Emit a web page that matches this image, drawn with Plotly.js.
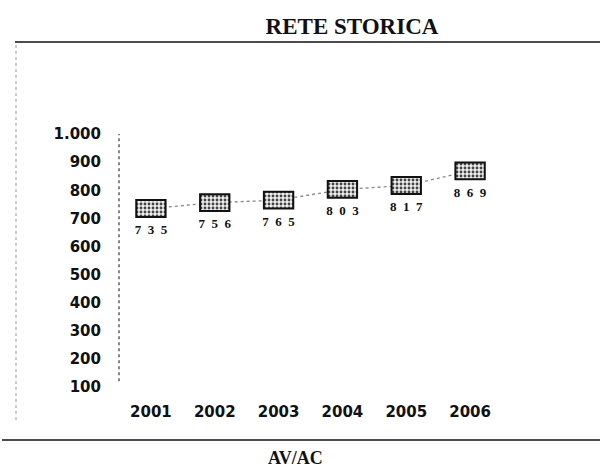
<!DOCTYPE html>
<html>
<head>
<meta charset="utf-8">
<script src="https://cdn.plot.ly/plotly-3.0.1.min.js"></script>
<style>html,body{margin:0;padding:0;background:#fff;}#chart{width:600px;height:470px;}</style>
</head>
<body>
<div id="chart"></div>
<script>
const years = ['2001', '2002', '2003', '2004', '2005', '2006'];
const values = [735, 756, 765, 803, 817, 869];
const yTicks = [100, 200, 300, 400, 500, 600, 700, 800, 900, 1000];
const chartTitle = 'RETE STORICA';
const footerTitle = 'AV/AC';

const boxHalf = 30; // half-height of the box marks in data units
const spaced = values.map(v => String(v).split('').join('\u2002'));

const lineTrace = {
  type: 'scatter', mode: 'lines', x: years, y: values,
  xaxis: 'x', yaxis: 'y',
  line: {color: '#888', width: 1.3, dash: 'dot'},
  hoverinfo: 'skip', showlegend: false
};
const boxTrace = {
  type: 'bar', x: years, y: values.map(() => 2 * boxHalf),
  base: values.map(v => v - boxHalf),
  xaxis: 'x2', yaxis: 'y2', width: 0.46,
  marker: {
    color: '#e6e6e6',
    line: {color: '#111', width: 2},
    pattern: {shape: '.', fgcolor: '#444', bgcolor: '#eeeeee', size: 4, solidity: 0.4}
  },
  showlegend: false, hoverinfo: 'skip'
};
const labelTrace = {
  type: 'scatter', mode: 'markers+text', x: years, y: values,
  xaxis: 'x2', yaxis: 'y2',
  marker: {size: 24, opacity: 0},
  text: spaced, textposition: 'bottom center',
  textfont: {family: 'Liberation Serif', size: 13, color: '#111', weight: 'bold'},
  showlegend: false, hoverinfo: 'skip'
};

const yr = [50, 1100];
const xr = [-0.5, 5.5];
const layout = {
  width: 600, height: 470,
  margin: {l: 119, r: 98, t: 106, b: 69},
  paper_bgcolor: '#fff', plot_bgcolor: '#fff',
  separators: ',.',
  showlegend: false,
  title: {
    text: '<b>' + chartTitle + '</b>', xref: 'paper', x: (352 - 119) / 383, xanchor: 'center',
    yref: 'container', y: 1 - 26 / 470, yanchor: 'middle',
    font: {family: 'Liberation Serif', size: 23, color: '#111'}
  },
  xaxis: {
    type: 'category', range: xr, showline: false, showgrid: false, zeroline: false,
    ticks: '', tickfont: {family: 'DejaVu Sans', size: 15, color: '#111', weight: 'bold'}
  },
  yaxis: {
    range: yr, tickvals: yTicks, tickformat: ',d', showline: false, showgrid: false, zeroline: false,
    ticks: '', ticklabelstandoff: 17,
    tickfont: {family: 'DejaVu Sans', size: 15, color: '#111', weight: 'bold'}
  },
  xaxis2: {type: 'category', range: xr, overlaying: 'x', visible: false},
  yaxis2: {range: yr, overlaying: 'y', visible: false},
  shapes: [
    {type: 'line', xref: 'paper', yref: 'paper', x0: (15 - 119) / 383, x1: (600 - 119) / 383,
     y0: (401 - 42) / 295, y1: (401 - 42) / 295, line: {color: '#111', width: 1.5}},
    {type: 'line', xref: 'paper', yref: 'paper', x0: (2 - 119) / 383, x1: (600 - 119) / 383,
     y0: (401 - 440) / 295, y1: (401 - 440) / 295, line: {color: '#111', width: 1.5}},
    {type: 'line', xref: 'paper', yref: 'paper', x0: (16 - 119) / 383, x1: (16 - 119) / 383,
     y0: (401 - 420) / 295, y1: (401 - 44) / 295, line: {color: '#999', width: 1, dash: 'dot'}},
    {type: 'line', xref: 'paper', yref: 'y', x0: 0, x1: 0, y0: 120, y1: 1000,
     line: {color: '#444', width: 1.3, dash: 'dot'}}
  ],
  annotations: [
    {text: '<b>' + footerTitle + '</b>', xref: 'paper', yref: 'paper',
     x: (295 - 119) / 383, y: (401 - 458) / 295, xanchor: 'center', yanchor: 'middle',
     showarrow: false, font: {family: 'Liberation Serif', size: 18, color: '#111'}}
  ]
};
Plotly.newPlot('chart', [lineTrace, boxTrace, labelTrace], layout, {staticPlot: true, displayModeBar: false});
</script>
</body>
</html>
